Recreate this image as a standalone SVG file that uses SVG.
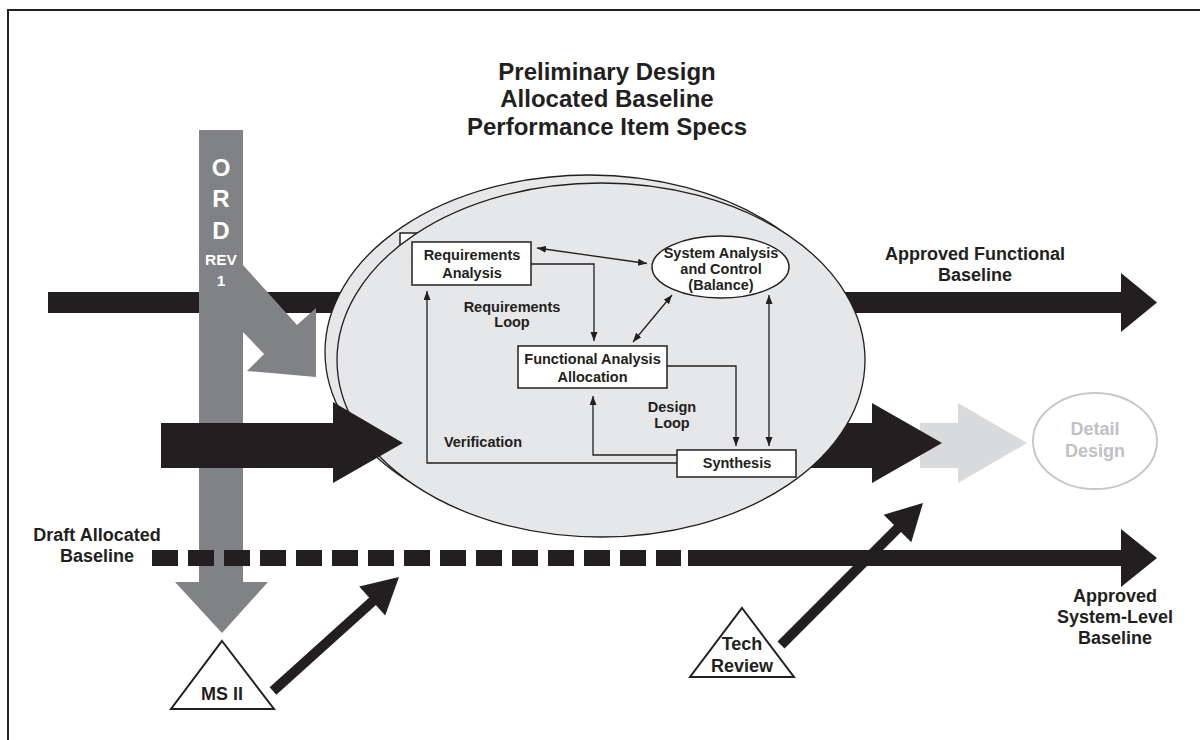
<svg xmlns="http://www.w3.org/2000/svg" width="1200" height="740" viewBox="0 0 1200 740">
<defs>
<marker id="ah" markerUnits="userSpaceOnUse" markerWidth="10" markerHeight="8" refX="9" refY="3.5" orient="auto-start-reverse">
<path d="M0,0 L9,3.5 L0,7 z" fill="#231f20"/>
</marker>
</defs>
<style>
text{font-family:"Liberation Sans",Arial,Helvetica,sans-serif;font-weight:bold;fill:#231f20;text-anchor:middle}
.t24{font-size:24px}
.t18{font-size:18px}
.t14{font-size:14.5px}
.blk{fill:#231f20}
.gry{fill:#808285}
.lgry{fill:#d9dadb}
.box{fill:#ffffff;stroke:#231f20;stroke-width:1.5}
.ell{fill:#e6e7e8;stroke:#231f20;stroke-width:1.3}
.con{fill:none;stroke:#231f20;stroke-width:1.3}
.wt{fill:#ffffff}
</style>
<rect x="0" y="0" width="1200" height="740" fill="#ffffff"/>
<rect x="8" y="10" width="1200" height="740" fill="none" stroke="#231f20" stroke-width="2"/>

<g id="title">
<text class="t24" x="607" y="80">Preliminary Design</text>
<text class="t24" x="607" y="107">Allocated Baseline</text>
<text class="t24" x="607" y="135">Performance Item Specs</text>
</g>

<g id="functional-baseline-arrow">
<polygon class="blk" points="48,292 1121,292 1121,273 1157,302.5 1121,332 1121,313 48,313"/>
</g>

<g id="ord-arrow">
<polygon class="gry" points="199,130 243,130 243,265 297,325 316,308 316,377 247,371 264,354 243,332 243,582 268,582 222,633 175,582 199,582"/>
<text class="wt" x="221" y="176" style="font-size:24px;fill:#ffffff">O</text>
<text class="wt" x="221" y="207" style="font-size:24px;fill:#ffffff">R</text>
<text class="wt" x="221" y="239" style="font-size:24px;fill:#ffffff">D</text>
<text class="wt" x="221" y="265" style="font-size:15.5px;fill:#ffffff">REV</text>
<text class="wt" x="221" y="286" style="font-size:15.5px;fill:#ffffff">1</text>
</g>

<g id="detail-design-arrow">
<polygon class="lgry" points="920,423 958,423 958,403 1027,443 958,483 958,468 920,468"/>
</g>

<g id="output-arrow">
<polygon class="blk" points="700,423 872,423 872,403 942,443 872,483 872,468 700,468"/>
</g>

<g id="process-back">
<ellipse class="ell" cx="589" cy="352" rx="264" ry="177"/>
<rect class="box" x="400" y="233" width="120" height="40"/>
</g>

<g id="process">
<ellipse class="ell" cx="601" cy="360" rx="264" ry="177"/>
</g>

<g id="input-arrow">
<polygon class="blk" points="161,423 333,423 333,402 403,443 333,483 333,468 161,468"/>
</g>

<g id="connectors">
<line class="con" x1="537" y1="248" x2="647" y2="263.5" marker-start="url(#ah)" marker-end="url(#ah)"/>
<polyline class="con" points="531,264 594,264 594,341" marker-end="url(#ah)"/>
<line class="con" x1="633" y1="342" x2="672" y2="295" marker-start="url(#ah)" marker-end="url(#ah)"/>
<polyline class="con" points="667,366 736,366 736,446" marker-end="url(#ah)"/>
<line class="con" x1="769" y1="295" x2="769" y2="446" marker-start="url(#ah)" marker-end="url(#ah)"/>
<polyline class="con" points="677,455 593,455 593,396" marker-end="url(#ah)"/>
<polyline class="con" points="677,463 427,463 427,291" marker-end="url(#ah)"/>
</g>

<g id="requirements-analysis">
<rect class="box" x="412" y="242" width="119" height="43"/>
<text class="t14" x="472" y="260">Requirements</text>
<text class="t14" x="472" y="278">Analysis</text>
</g>

<g id="system-analysis">
<ellipse class="box" cx="720.5" cy="267" rx="68.5" ry="31"/>
<text class="t14" x="721" y="258">System Analysis</text>
<text class="t14" x="721" y="274">and Control</text>
<text class="t14" x="721" y="289.5">(Balance)</text>
</g>

<g id="functional-analysis">
<rect class="box" x="518" y="346" width="149" height="42"/>
<text class="t14" x="592.5" y="364">Functional Analysis</text>
<text class="t14" x="592.5" y="382">Allocation</text>
</g>

<g id="synthesis">
<rect class="box" x="677" y="450" width="119" height="27"/>
<text class="t14" x="737" y="468">Synthesis</text>
</g>

<g id="loop-labels">
<text class="t14" x="512" y="312">Requirements</text>
<text class="t14" x="512" y="327">Loop</text>
<text class="t14" x="672" y="412">Design</text>
<text class="t14" x="672" y="428">Loop</text>
<text class="t14" x="483" y="447">Verification</text>
</g>

<g id="detail-design">
<ellipse cx="1095" cy="441" rx="62" ry="48" fill="none" stroke="#c6c7c8" stroke-width="2"/>
<text class="t18" x="1095" y="435" style="fill:#c0c1c3">Detail</text>
<text class="t18" x="1095" y="457" style="fill:#c0c1c3">Design</text>
</g>

<g id="system-baseline-arrow">
<line x1="152" y1="558" x2="681" y2="558" stroke="#231f20" stroke-width="16" stroke-dasharray="26 10"/>
<polygon class="blk" points="688,550 1121,550 1121,529 1157,558 1121,587 1121,566 688,566"/>
</g>

<g id="ms2">
<polygon points="222,641 274,709 171,709" fill="#ffffff" stroke="#231f20" stroke-width="2"/>
<text class="t18" x="222" y="700">MS II</text>
</g>

<g id="ms2-arrow">
<line x1="273" y1="691" x2="374" y2="600" stroke="#231f20" stroke-width="10"/>
<polygon class="blk" points="399,577 385.2,615.5 359.2,586.5"/>
</g>

<g id="tech-review">
<polygon points="742,608 794,677 690,677" fill="#ffffff" stroke="#231f20" stroke-width="2"/>
<text class="t18" x="742" y="650">Tech</text>
<text class="t18" x="742" y="672">Review</text>
</g>

<g id="tech-arrow">
<line x1="781" y1="645" x2="899" y2="527" stroke="#231f20" stroke-width="10"/>
<polygon class="blk" points="923,503 911.3,542.3 883.7,514.7"/>
</g>

<g id="labels">
<text class="t18" x="975" y="260">Approved Functional</text>
<text class="t18" x="975" y="281">Baseline</text>
<text class="t18" x="97" y="541">Draft Allocated</text>
<text class="t18" x="97" y="562">Baseline</text>
<text class="t18" x="1115" y="602">Approved</text>
<text class="t18" x="1115" y="623">System-Level</text>
<text class="t18" x="1115" y="644">Baseline</text>
</g>
</svg>
